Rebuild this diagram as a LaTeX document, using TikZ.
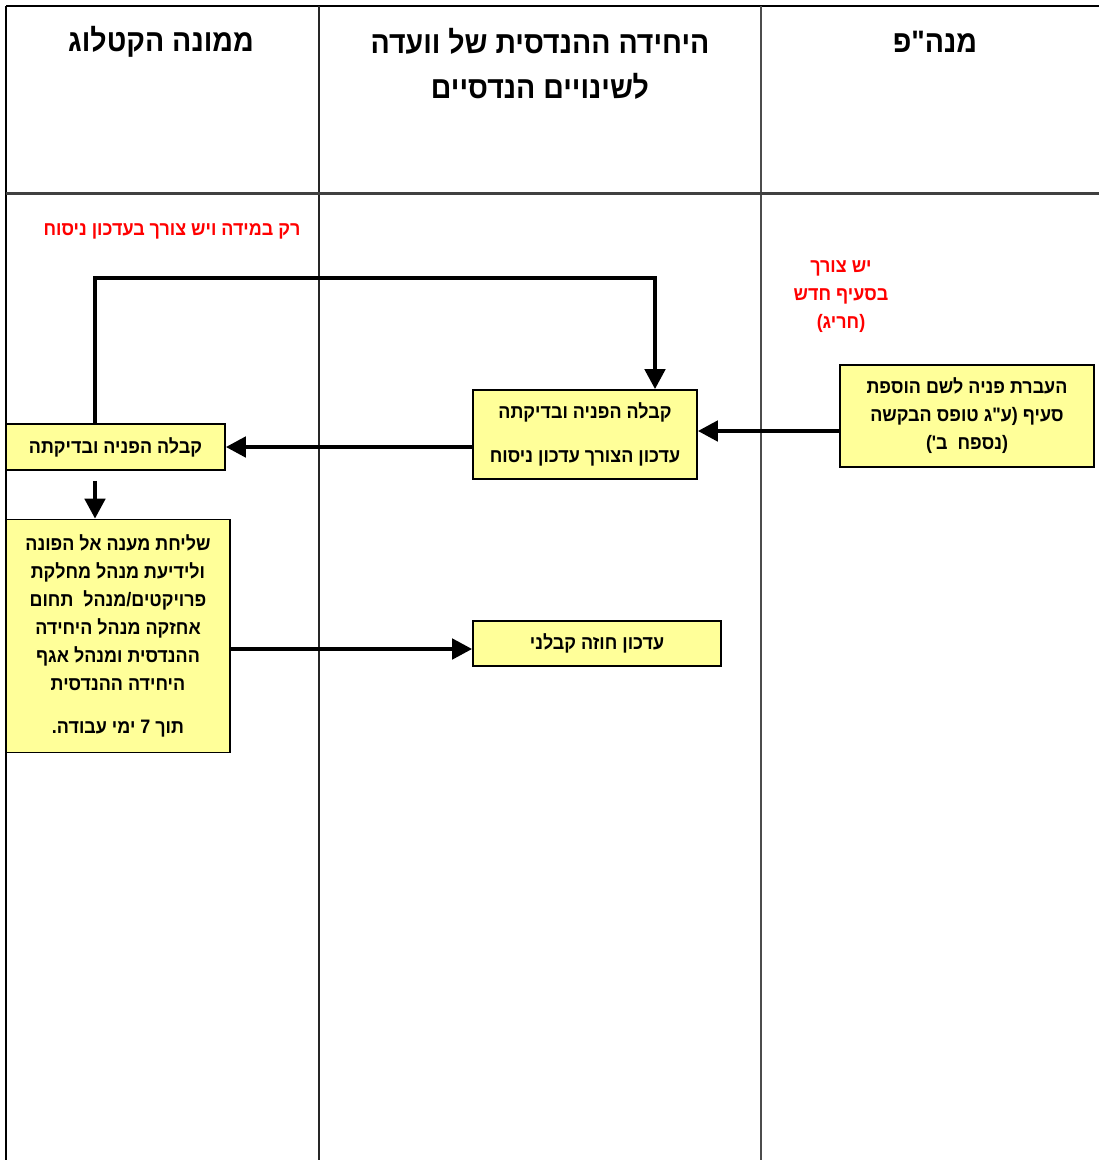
\documentclass[tikz,border=0pt]{standalone}
\usepackage{fontspec}
\usetikzlibrary{arrows.meta}
\TeXXeTstate=1
\newfontfamily\heb[Script=Hebrew, FakeStretch=0.92]{Liberation Sans}
\definecolor{boxyellow}{HTML}{FFFF99}
\tikzset{
  lane/.style={line width=2pt, draw=black!85},
  flowbox/.style={draw=black, line width=1.6pt, fill=boxyellow, inner sep=0pt, align=center,
    font=\heb\bfseries\fontsize{19.5}{28}\selectfont},
  headtext/.style={inner sep=0pt, align=center, font=\heb\bfseries\fontsize{31}{45}\selectfont},
  redtext/.style={inner sep=0pt, align=center, text=red, font=\heb\bfseries\fontsize{19.5}{28}\selectfont},
  flow/.style={line width=4.5pt, draw=black, -{Triangle[length=20pt,width=20pt]}},
}
\begin{document}
\begin{tikzpicture}[x=1pt,y=-1pt]
\useasboundingbox (0,0) rectangle (1099,1160);
% lanes
\draw[lane, line width=2.5pt, draw=black] (6,6) -- (1099,6);
\draw[lane, line width=2.5pt, draw=black] (6,6) -- (6,1160);
\draw[lane] (319,6) -- (319,1160);
\draw[lane, line width=1.6pt, draw=black!70] (761,6) -- (761,1160);
\draw[lane, line width=3pt, draw=black!75] (6,193) -- (1099,193);
% headers
\node[headtext] (h1) at (161,42) {\beginR ממונה הקטלוג\endR};
\node[headtext] (h2) at (540,64) {\beginR היחידה ההנדסית של וועדה\endR\\\beginR לשינויים הנדסיים\endR};
\node[headtext] (h3) at (935,42) {\beginR מנה"פ\endR};
% red notes
\node[redtext] (r1) at (172,231) {\beginR רק במידה ויש צורך בעדכון ניסוח\endR};
\node[redtext] (r2) at (841,297) {\beginR יש צורך\endR\\\beginR בסעיף חדש\endR\\\beginR (חריג)\endR};
% boxes
\node[flowbox, minimum width=254pt, minimum height=102pt] (A) at (967,416)
  {\beginR העברת פניה לשם הוספת\endR\\\beginR סעיף (ע"ג טופס הבקשה\endR\\\beginR (נספח~~ב')\endR};
\node[flowbox, minimum width=224pt, minimum height=89pt] (B) at (585,434.5)
  {\beginR קבלה הפניה ובדיקתה\endR\\[16pt]\beginR עדכון הצורך עדכון ניסוח\endR};
\node[flowbox, minimum width=219pt, minimum height=46pt] (C) at (115.5,447)
  {\beginR קבלה הפניה ובדיקתה\endR};
\node[flowbox, minimum width=224pt, minimum height=233pt] (D) at (118,636)
  {\beginR שליחת מענה אל הפונה\endR\\\beginR ולידיעת מנהל מחלקת\endR\\\beginR פרויקטים/מנהל~~תחום\endR\\\beginR אחזקה מנהל היחידה\endR\\\beginR ההנדסית ומנהל אגף\endR\\\beginR היחידה ההנדסית\endR\\[15pt]\beginR תוך 7 ימי עבודה.\endR};
\node[flowbox, minimum width=248pt, minimum height=45pt] (E) at (597,643.5)
  {\beginR עדכון חוזה קבלני\endR};
% helper coordinates
\coordinate (ltop) at (95,278);
\coordinate (rtop) at (655,278);
\coordinate (ab) at (0,431);
\coordinate (de) at (0,649);
% connectors
\draw[flow] (A.west |- ab) -- (B.east |- ab);
\draw[flow] (B.west |- C.east) -- (C.east);
\draw[flow] (ltop |- C.north) -- (ltop) -- (rtop) -- (rtop |- B.north);
\draw[flow] ([yshift=-10pt]ltop |- C.south) -- (ltop |- D.north);
\draw[flow] (D.east |- de) -- (E.west |- de);
\end{tikzpicture}
\end{document}
